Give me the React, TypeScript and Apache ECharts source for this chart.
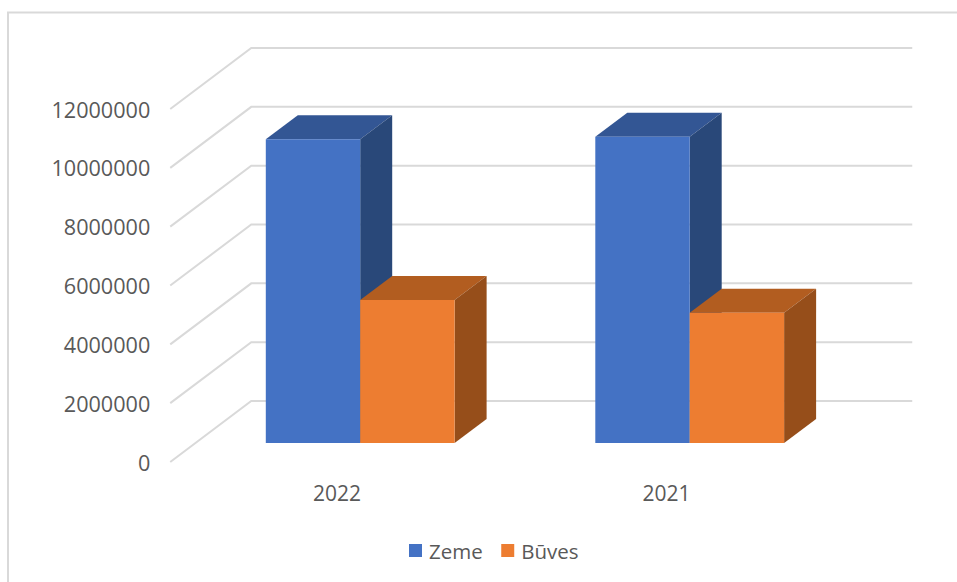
import React, { useEffect, useRef } from "react";
import * as echarts from "echarts";

const categories = ["2022", "2021"];
const zeme = [10330000, 10410000];
const buves = [4860000, 4430000];
const gridTicks = [0, 2000000, 4000000, 6000000, 8000000, 10000000, 12000000];

const FONT = "'Open Sans', sans-serif";
const TEXT = "#595959";
const GRID = "#d9d9d9";

function barRenderer(side: number, front: string, top: string, right: string) {
  return (params: any, api: any) => {
    const cat = api.value(0);
    const val = api.value(1);
    const band = api.size([1, 0])[0];
    const w = band * 0.2865;
    const [cx, ty] = api.coord([cat, val]);
    const by = api.coord([cat, 0])[1];
    const ox = 23.2, oy = -19;
    const x0 = cx + ox + (side < 0 ? -w : 0);
    const x1 = x0 + w;
    const y0 = by + oy;
    const y1 = ty + oy;
    const dx = 32, dy = -24;
    return {
      type: "group",
      children: [
        { type: "polygon", shape: { points: [[x0, y1], [x1, y1], [x1 + dx, y1 + dy], [x0 + dx, y1 + dy]] }, style: { fill: top } },
        { type: "polygon", shape: { points: [[x1, y0], [x1 + dx, y0 + dy], [x1 + dx, y1 + dy], [x1, y1]] }, style: { fill: right } },
        { type: "rect", shape: { x: x0, y: y1, width: w, height: y0 - y1 }, style: { fill: front } },
      ],
    };
  };
}

function wallRenderer(params: any, api: any) {
  const v = api.value(0);
  const y = api.coord([0, v])[1];
  const cs = params.coordSys;
  return {
    type: "polyline",
    shape: {
      points: [
        [cs.x - 2, y],
        [cs.x + 79, y - 61],
        [cs.x + cs.width + 81, y - 61],
      ],
    },
    style: { stroke: GRID, lineWidth: 2, fill: "none" },
  };
}

export default function App() {
  const ref = useRef<HTMLDivElement>(null);
  useEffect(() => {
    const chart = echarts.init(ref.current!, undefined, { renderer: "svg" });
    chart.setOption({
      animation: false,
      backgroundColor: "#ffffff",
      graphic: [
        {
          type: "rect",
          z: -10,
          shape: { x: 8, y: 12.5, width: 1100, height: 800 },
          style: { fill: "none", stroke: GRID, lineWidth: 2 },
        },
      ],
      grid: { left: 172.25, top: 109, width: 659, height: 353 },
      legend: {
        data: ["Zeme", "Būves"],
        left: 404,
        top: 535,
        icon: "rect",
        itemWidth: 13,
        itemHeight: 13,
        itemGap: 18.5,
        textStyle: { fontFamily: FONT, fontSize: 20.5, color: TEXT, padding: [0, 0, 0, 2] },
      },
      xAxis: {
        type: "category",
        data: categories,
        axisLine: { show: false },
        axisTick: { show: false },
        axisLabel: { fontFamily: FONT, fontSize: 21, color: TEXT, margin: 20 },
      },
      yAxis: {
        type: "value",
        min: 0,
        max: 12000000,
        interval: 2000000,
        splitLine: { show: false },
        axisLine: { show: false },
        axisTick: { show: false },
        axisLabel: {
          fontFamily: FONT,
          fontSize: 21.6,
          color: TEXT,
          margin: 22,
          formatter: (v: number) => String(v),
        },
      },
      series: [
        {
          type: "custom",
          name: "wall",
          silent: true,
          z: 1,
          renderItem: wallRenderer,
          data: gridTicks.map((v) => [v]),
          encode: { y: 0 },
        },
        {
          type: "custom",
          name: "Zeme",
          z: 2,
          itemStyle: { color: "#4472c4" },
          renderItem: barRenderer(-1, "#4472c4", "#335694", "#294879"),
          data: zeme.map((v, i) => [i, v]),
          encode: { x: 0, y: 1 },
        },
        {
          type: "custom",
          name: "Būves",
          z: 3,
          itemStyle: { color: "#ed7d31" },
          renderItem: barRenderer(1, "#ed7d31", "#b25d20", "#964e1a"),
          data: buves.map((v, i) => [i, v]),
          encode: { x: 0, y: 1 },
        },
      ],
    });
    return () => chart.dispose();
  }, []);
  return (
    <div
      ref={ref}
      style={{ position: "absolute", left: 0, top: 0, width: 957, height: 582 }}
    />
  );
}
